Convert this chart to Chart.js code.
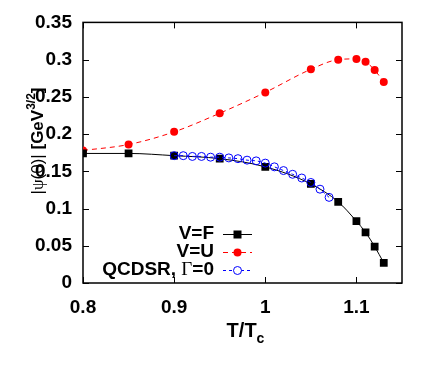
<!DOCTYPE html>
<html>
<head>
<meta charset="utf-8">
<script src="https://cdn.jsdelivr.net/npm/chart.js@4.4.1/dist/chart.umd.min.js"></script>
<style>
  html, body { margin: 0; padding: 0; background: #fff; }
  #wrap { width: 436px; height: 366px; }
</style>
</head>
<body>
<div id="wrap"><canvas id="chart" width="436" height="366"></canvas></div>
<script>
// temperatures (T/Tc) and |psi(0)| values
const tempF = [0.80, 0.85, 0.90, 0.95, 1.00, 1.05, 1.08, 1.10, 1.11, 1.12, 1.13];
const psiF = [0.174, 0.174, 0.171, 0.167, 0.156, 0.133, 0.109, 0.083, 0.068, 0.049, 0.027];

const tempU = [0.80, 0.85, 0.90, 0.95, 1.00, 1.05, 1.08, 1.10, 1.11, 1.12, 1.13];
const psiU = [0.178, 0.186, 0.203, 0.228, 0.256, 0.287, 0.300, 0.301, 0.297, 0.286, 0.270];

const tempQ = [0.90, 0.91, 0.92, 0.93, 0.94, 0.95, 0.96, 0.97, 0.98, 0.99,
  1.00, 1.01, 1.02, 1.03, 1.04, 1.05, 1.06, 1.07];
const psiQ = [0.171, 0.171, 0.170, 0.170, 0.169, 0.169, 0.168, 0.167, 0.165, 0.164,
  0.161, 0.156, 0.151, 0.146, 0.141, 0.135, 0.126, 0.115];

const xTicks = [0.8, 0.9, 1.0, 1.1];
const xTickLabels = ["0.8", "0.9", "1", "1.1"];
const yTicks = [0, 0.05, 0.1, 0.15, 0.2, 0.25, 0.3, 0.35];
const yTickLabels = ["0", "0.05", "0.1", "0.15", "0.2", "0.25", "0.3", "0.35"];

const seriesNames = ["V=F", "V=U", "QCDSR, \u0393=0"];

const FONT = '"Liberation Sans", Arial, sans-serif';
const SERIF = '"Liberation Serif", "Times New Roman", serif';

const toPoints = (xs, ys) => xs.map((x, i) => ({ x: x, y: ys[i] }));

// draw a row of text pieces with different fonts, starting at x
function drawPieces(ctx, parts, x, y) {
  parts.forEach((p) => {
    ctx.font = p.f;
    ctx.fillText(p.t, x, y + (p.dy || 0));
    x += ctx.measureText(p.t).width;
  });
}

function piecesWidth(ctx, parts) {
  let w = 0;
  parts.forEach((p) => {
    ctx.font = p.f;
    w += ctx.measureText(p.t).width;
  });
  return w;
}

// frame + inward ticks on all four sides
const framePlugin = {
  id: "frame",
  beforeDatasetsDraw(chart) {
    const { ctx, chartArea: a, scales } = chart;
    ctx.save();
    ctx.strokeStyle = "#000";
    ctx.lineWidth = 1.5;
    ctx.strokeRect(a.left, a.top, a.right - a.left, a.bottom - a.top);
    ctx.lineWidth = 1;
    ctx.beginPath();
    xTicks.forEach((v) => {
      const px = Math.round(scales.x.getPixelForValue(v)) + 0.5;
      ctx.moveTo(px, a.bottom);
      ctx.lineTo(px, a.bottom - 6);
      ctx.moveTo(px, a.top);
      ctx.lineTo(px, a.top + 6);
    });
    yTicks.forEach((v) => {
      const py = Math.round(scales.y.getPixelForValue(v)) + 0.5;
      ctx.moveTo(a.left, py);
      ctx.lineTo(a.left + 6, py);
      ctx.moveTo(a.right, py);
      ctx.lineTo(a.right - 6, py);
    });
    ctx.stroke();
    ctx.restore();
  },
};

// axis titles with sub/superscripts and the legend
const labelPlugin = {
  id: "labels",
  afterDraw(chart) {
    const { ctx, chartArea: a } = chart;
    ctx.save();
    ctx.fillStyle = "#000";
    ctx.textBaseline = "alphabetic";
    ctx.textAlign = "left";

    // x title: T/Tc
    const xTitle = [
      { t: "T/T", f: "bold 20px " + FONT },
      { t: "c", f: "bold 14px " + FONT, dy: 6 },
    ];
    const cx = (a.left + a.right) / 2;
    drawPieces(ctx, xTitle, cx - piecesWidth(ctx, xTitle) / 2 + 3, 337);

    // y title: |psi(0)| [GeV^3/2]
    ctx.save();
    ctx.translate(43, 141);
    ctx.rotate(-Math.PI / 2);
    const yTitle = [
      { t: "|", f: "17px " + FONT },
      { t: "\u03C8", f: "17px " + SERIF },
      { t: "(0)| ", f: "17px " + FONT },
      { t: "[GeV", f: "bold 17px " + FONT },
      { t: "3/2", f: "bold 12px " + FONT, dy: -8 },
      { t: "]", f: "bold 17px " + FONT },
    ];
    drawPieces(ctx, yTitle, -piecesWidth(ctx, yTitle) / 2, 0);
    ctx.restore();

    // legend
    const rows = [
      { y: 234, color: "#000", dash: [], marker: "rect",
        parts: [{ t: "V=F", f: "bold 19px " + FONT }] },
      { y: 252, color: "#ff0000", dash: [5, 4], marker: "dot",
        parts: [{ t: "V=U", f: "bold 19px " + FONT }] },
      { y: 270, color: "#0000ff", dash: [3, 3], marker: "ring",
        parts: [
          { t: "QCDSR, ", f: "bold 19px " + FONT },
          { t: "\u0393", f: "19px " + SERIF },
          { t: "=0", f: "bold 19px " + FONT },
        ] },
    ];
    rows.forEach((r) => {
      ctx.textBaseline = "middle";
      ctx.fillStyle = "#000";
      drawPieces(ctx, r.parts, 214 - piecesWidth(ctx, r.parts), r.y);
      ctx.strokeStyle = r.color;
      ctx.lineWidth = 1;
      ctx.setLineDash(r.dash);
      ctx.beginPath();
      ctx.moveTo(223, r.y + 0.5);
      ctx.lineTo(252, r.y + 0.5);
      ctx.stroke();
      ctx.setLineDash([]);
      const mx = 237.5;
      if (r.marker === "rect") {
        ctx.fillStyle = "#000";
        ctx.fillRect(mx - 4, r.y - 3.5, 8, 8);
      } else if (r.marker === "dot") {
        ctx.fillStyle = "#ff0000";
        ctx.beginPath();
        ctx.arc(mx, r.y + 0.5, 4, 0, Math.PI * 2);
        ctx.fill();
      } else {
        ctx.fillStyle = "#fff";
        ctx.strokeStyle = "#0000ff";
        ctx.beginPath();
        ctx.arc(mx, r.y + 0.5, 4, 0, Math.PI * 2);
        ctx.fill();
        ctx.stroke();
      }
    });
    ctx.restore();
  },
};

new Chart(document.getElementById("chart"), {
  type: "line",
  data: {
    datasets: [
      {
        label: seriesNames[2],
        data: toPoints(tempQ, psiQ),
        borderColor: "#0000ff",
        borderWidth: 1,
        borderDash: [3, 3],
        pointStyle: "circle",
        pointRadius: 4,
        pointBorderWidth: 1,
        pointBorderColor: "#0000ff",
        pointBackgroundColor: "rgba(255,255,255,0)",
        cubicInterpolationMode: "monotone",
        order: 1,
      },
      {
        label: seriesNames[0],
        data: toPoints(tempF, psiF),
        borderColor: "#000",
        borderWidth: 1,
        pointStyle: "rect",
        pointRadius: 5.5,
        pointBorderWidth: 0,
        pointBackgroundColor: "#000",
        cubicInterpolationMode: "monotone",
        order: 2,
      },
      {
        label: seriesNames[1],
        data: toPoints(tempU, psiU),
        borderColor: "#ff0000",
        borderWidth: 1,
        borderDash: [5, 4],
        pointStyle: "circle",
        pointRadius: 4,
        pointBorderWidth: 0,
        pointBackgroundColor: "#ff0000",
        cubicInterpolationMode: "monotone",
        order: 3,
      },
    ],
  },
  options: {
    responsive: false,
    animation: false,
    devicePixelRatio: 1,
    layout: { padding: { left: 0, top: 22, right: 34, bottom: 0 } },
    plugins: {
      legend: { display: false },
      tooltip: { enabled: false },
    },
    scales: {
      x: {
        type: "linear",
        min: 0.8,
        max: 1.15,
        afterBuildTicks: (axis) => {
          axis.ticks = xTicks.map((v) => ({ value: v }));
        },
        afterFit: (axis) => {
          axis.height = 83;
        },
        grid: { display: false, drawTicks: false },
        border: { display: false },
        ticks: {
          color: "#000",
          padding: 13,
          maxRotation: 0,
          font: { family: FONT, size: 19, weight: "bold" },
          callback: (v) => xTickLabels[xTicks.findIndex((t) => Math.abs(t - v) < 1e-6)],
        },
      },
      y: {
        type: "linear",
        min: 0,
        max: 0.35,
        afterBuildTicks: (axis) => {
          axis.ticks = yTicks.map((v) => ({ value: v }));
        },
        afterFit: (axis) => {
          axis.width = 83;
        },
        grid: { display: false, drawTicks: false },
        border: { display: false },
        ticks: {
          color: "#000",
          padding: 11,
          font: { family: FONT, size: 19, weight: "bold" },
          callback: (v) => yTickLabels[yTicks.findIndex((t) => Math.abs(t - v) < 1e-6)],
        },
      },
    },
  },
  plugins: [framePlugin, labelPlugin],
});
</script>
</body>
</html>
